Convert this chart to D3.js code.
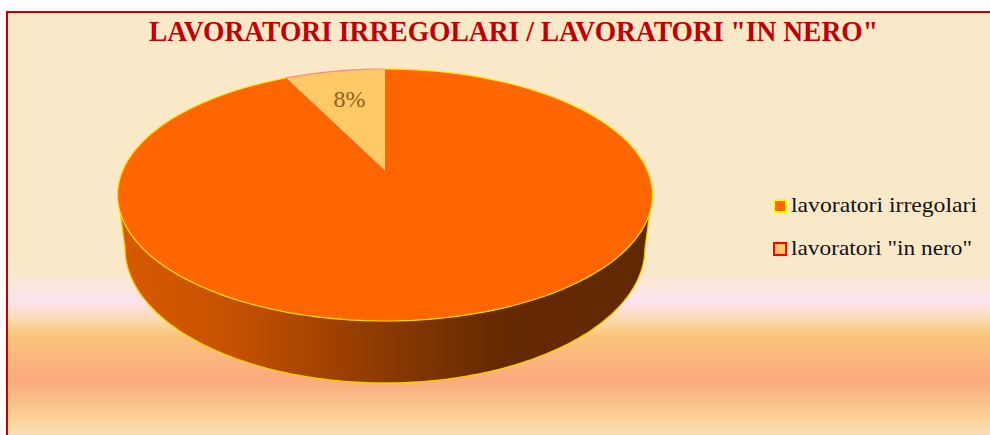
<!DOCTYPE html>
<html><head><meta charset="utf-8">
<script src="https://cdnjs.cloudflare.com/ajax/libs/d3/7.8.5/d3.min.js"></script>
<style>html,body{margin:0;padding:0;background:#fff;overflow:hidden}svg{display:block}text{font-family:"Liberation Serif",serif}</style>
</head><body><div id="chart"></div>
<script>
const categories = ['lavoratori irregolari', 'lavoratori "in nero"'];
const values = [92.7, 7.3];
const sliceLabels = [null, '8%'];
const titleText = 'LAVORATORI IRREGOLARI / LAVORATORI "IN NERO"';
const fills = ['#ff6600', '#ffc966'];
const rims = ['#ffe600', '#ff8a7a'];
const legendBorders = ['#ffff00', '#ff0000'];

const W = 990, H = 435;
const svg = d3.select('#chart').append('svg').attr('width', W).attr('height', H);
const defs = svg.append('defs');

const bgY = y => (y - 12) / H;
const bg = defs.append('linearGradient').attr('id', 'bg').attr('x1', 0).attr('x2', 0).attr('y1', 0).attr('y2', 1);
[[12, '#fae9c8'], [268, '#fae9c8'], [302, '#fde3f0'], [308, '#fce0d8'], [322, '#fbd8a8'], [335, '#fbc67a'], [355, '#fbb880'], [379, '#fba97c'], [400, '#fbbf88'], [420, '#fad49a'], [435, '#fbdcb8'], [447, '#fbdcb8']]
  .forEach(d => bg.append('stop').attr('offset', bgY(d[0])).attr('stop-color', d[1]));
const wallG = defs.append('linearGradient').attr('id', 'wall').attr('gradientUnits', 'userSpaceOnUse')
  .attr('x1', 118).attr('x2', 651).attr('y1', 0).attr('y2', 0);
[[0, '#d85a00'], [.2, '#c85200'], [.36, '#a84500'], [.52, '#873800'], [.72, '#642900'], [1, '#622800']]
  .forEach(d => wallG.append('stop').attr('offset', d[0]).attr('stop-color', d[1]));

svg.append('rect').attr('x', 7).attr('y', 12).attr('width', W).attr('height', H)
  .attr('fill', 'url(#bg)').attr('stroke', '#c00000').attr('stroke-width', 2);

// Perspective view of the pie's top face
const cx = 385, apexY = 171, farY = 69, nearY = 321, semiW = 267.5;
const k = ((nearY - apexY) - (apexY - farY)) / ((nearY - apexY) + (apexY - farY));
const a = (nearY - apexY) * (1 - k), b = semiW * Math.sqrt(1 - k * k);
const project = t => {
  const X = Math.sin(t), Y = -Math.cos(t), w = 1 - k * Y;
  return [cx + b * X / w, apexY + a * Y / w];
};
const line = d3.line();
const arcPts = (s, e) => d3.range(0, 121).map(i => project(s + (e - s) * i / 120));

const pie = d3.pie().sort(null).value(d => d);
const arcs = pie(values);

// Wall
const bot = { cy: 248, rx: 260, ry: 135 };
const wallAngle = d3.scaleLinear().domain([0, 120]).range([0, Math.PI]);
const botPts = d3.range(0, 121).map(i => {
  const t = wallAngle(i);
  return [cx + bot.rx * Math.cos(t), bot.cy + bot.ry * Math.sin(t)];
});
const wallTop = 213;
const topX = semiW * Math.sqrt(1 - Math.pow((wallTop - 195) / 126, 2));
const wallPts = [[cx + topX, wallTop], ...botPts, [cx - topX, wallTop]];
svg.append('path').attr('d', line(wallPts)).attr('fill', 'url(#wall)')
  .attr('stroke', '#f0d000').attr('stroke-width', 1.3).attr('stroke-linejoin', 'round');

// Top-face slices
arcs.forEach((d, i) => {
  const pts = arcPts(d.startAngle, d.endAngle);
  svg.append('path').attr('d', line([[cx, apexY], ...pts]) + 'Z').attr('fill', fills[i]);
});
arcs.forEach((d, i) => {
  svg.append('path').attr('d', line(arcPts(d.startAngle, d.endAngle)))
    .attr('fill', 'none').attr('stroke', rims[i]).attr('stroke-width', 1.2);
});
svg.append('path').attr('d', line([[cx, apexY], project(arcs[1].startAngle)]))
  .attr('stroke', '#ff5a1a').attr('stroke-width', 1).attr('fill', 'none');

// Slice label
arcs.forEach((d, i) => {
  if (!sliceLabels[i]) return;
  svg.append('text').attr('x', 349.5).attr('y', 107).attr('text-anchor', 'middle')
    .attr('font-size', 24).attr('fill', '#94601c').text(sliceLabels[i]);
});

// Title
svg.append('text').attr('x', 149).attr('y', 41).attr('font-size', 29).attr('font-weight', 'bold')
  .attr('fill', '#c00000').attr('textLength', 729).attr('lengthAdjust', 'spacingAndGlyphs').text(titleText);

// Legend
const legendY = d3.scalePoint().domain(categories).range([206, 249]);
const legendLen = [186, 181];
categories.forEach((c, i) => {
  const y = legendY(c);
  svg.append('rect').attr('x', 774).attr('y', y - 6).attr('width', 12).attr('height', 12)
    .attr('fill', fills[i]).attr('stroke', legendBorders[i]).attr('stroke-width', 2);
  svg.append('text').attr('x', 791).attr('y', y + 5.5).attr('font-size', 22).attr('fill', '#111')
    .attr('textLength', legendLen[i]).attr('lengthAdjust', 'spacingAndGlyphs').text(c);
});
</script></body></html>
